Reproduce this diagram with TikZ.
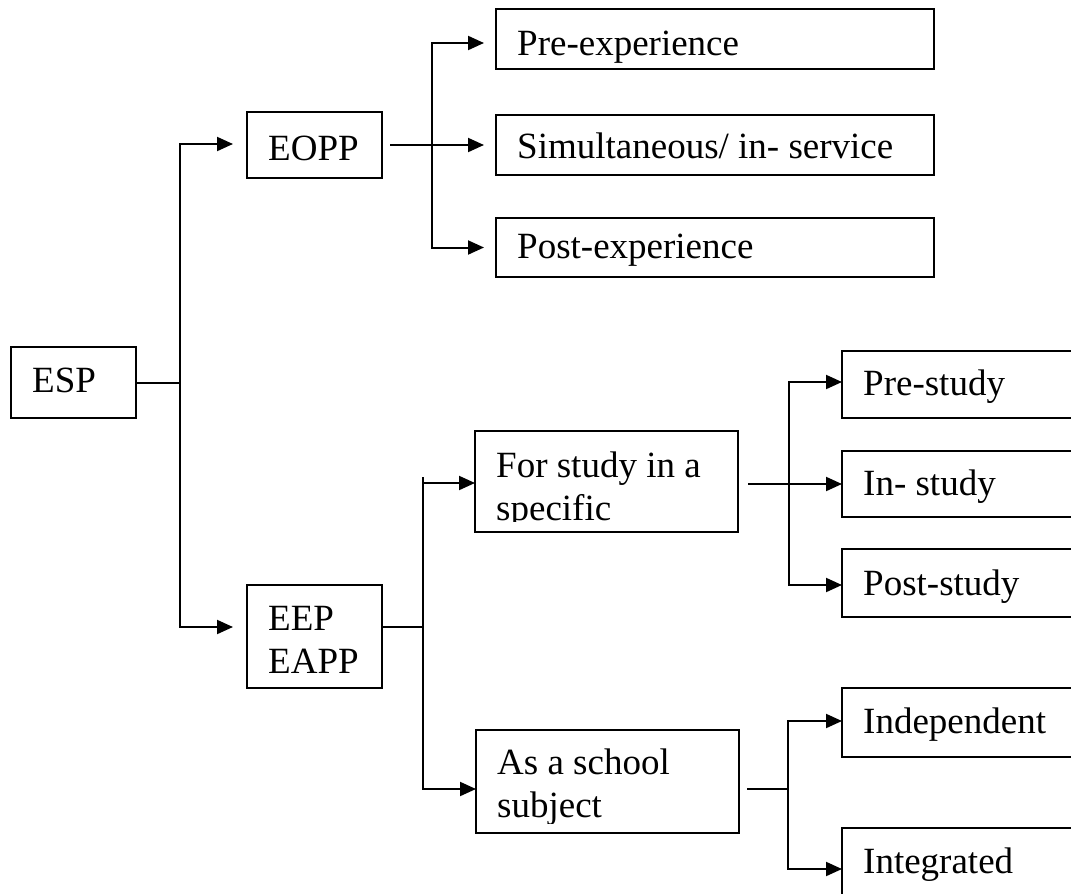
\documentclass[tikz,border=0pt]{standalone}
\usepackage{fontspec}
\setmainfont{Liberation Serif}
\usetikzlibrary{arrows.meta,calc}
\begin{document}
\begin{tikzpicture}[x=1pt,y=-1pt,
  box/.style={draw, line width=2pt, anchor=north west, inner sep=0pt, outer sep=0pt},
  lbl/.style={anchor=base west, inner sep=0pt, font=\fontsize{37}{43}\selectfont},
  conn/.style={line width=2pt},
  arr/.style={conn, -{Triangle[length=16pt,width=14pt]}}
]
\useasboundingbox (0,0) rectangle (1071,894);
\fill[white] (0,0) rectangle (1071,894);
\clip (0,0) rectangle (1071,894);

% boxes
\node[box, minimum width=125pt, minimum height=71pt] (esp) at (11,347) {};
\node[box, minimum width=135pt, minimum height=66pt] (eopp) at (247,112) {};
\node[box, minimum width=438pt, minimum height=60pt] (pre) at (496,9) {};
\node[box, minimum width=438pt, minimum height=60pt] (sim) at (496,115) {};
\node[box, minimum width=438pt, minimum height=59pt] (post) at (496,218) {};
\node[box, minimum width=135pt, minimum height=103pt] (eep) at (247,585) {};
\node[box, minimum width=263pt, minimum height=101pt] (forstudy) at (475,431) {};
\node[box, minimum width=263pt, minimum height=103pt] (school) at (476,730) {};
\node[box, minimum width=260pt, minimum height=67pt] (prestudy) at (842,351) {};
\node[box, minimum width=260pt, minimum height=66pt] (instudy) at (842,451) {};
\node[box, minimum width=260pt, minimum height=68pt] (poststudy) at (842,549) {};
\node[box, minimum width=260pt, minimum height=69pt] (indep) at (842,688) {};
\node[box, minimum width=260pt, minimum height=82pt] (integ) at (842,828) {};

% labels
\node[lbl] (t-esp) at ($(esp.north west)+(21,45)$) {ESP};
\node[lbl] (t-eopp) at ($(eopp.north west)+(21,48)$) {EOPP};
\node[lbl] (t-pre) at ($(pre.north west)+(21,46)$) {Pre-experience};
\node[lbl] (t-sim) at ($(sim.north west)+(21,43)$) {Simultaneous/ in- service};
\node[lbl] (t-post) at ($(post.north west)+(21,40)$) {Post-experience};
\node[lbl] (t-eep) at ($(eep.north west)+(21,45)$) {\parbox[t]{120pt}{EEP\\EAPP}};
\begin{scope}
\clip (forstudy.north west) rectangle ([yshift=11pt]forstudy.south east);
\node[lbl] (t-forstudy) at ($(forstudy.north west)+(21,46)$) {\parbox[t]{240pt}{For study in a\\specific}};
\end{scope}
\begin{scope}
\clip (school.north west) rectangle ([yshift=10pt]school.south east);
\node[lbl] (t-school) at ($(school.north west)+(21,44)$) {\parbox[t]{240pt}{As a school\\subject}};
\end{scope}
\node[lbl] (t-prestudy) at ($(prestudy.north west)+(21,44)$) {Pre-study};
\node[lbl] (t-instudy) at ($(instudy.north west)+(21,44)$) {In- study};
\node[lbl] (t-poststudy) at ($(poststudy.north west)+(21,46)$) {Post-study};
\node[lbl] (t-indep) at ($(indep.north west)+(21,45)$) {Independent};
\node[lbl] (t-integ) at ($(integ.north west)+(21,45)$) {Integrated};

% ESP fork
\coordinate (f1) at (180,382.5);
\draw[conn] (esp.east) -- (f1);
\draw[arr, shorten >=14pt] (f1) |- ([yshift=1pt]eopp.west);
\draw[arr, shorten >=14pt] (f1) |- ([yshift=9.5pt]eep.west);

% EOPP fork
\coordinate (f2) at (432,145);
\draw[arr, shorten >=12pt] ([xshift=8pt]eopp.east) -- (sim.west);
\draw[arr, shorten >=12pt] (f2) |- ([yshift=-4pt]pre.west);
\draw[arr, shorten >=12pt] (f2) |- (post.west);

% EEP fork
\coordinate (f3) at (423,627);
\draw[conn] ([yshift=9.5pt]eep.east) -- (f3);
\draw[arr] (f3) |- ([yshift=-1.5pt]forstudy.west);
\draw[arr] (f3) |- ([yshift=-7.5pt]school.west);
\draw[conn] ([yshift=-1.5pt]forstudy.west -| f3) -- ++(0,-6);

% For-study fork
\coordinate (f4) at (789,484);
\draw[arr] ([xshift=10pt,yshift=-2.5pt]forstudy.east) -- (instudy.west);
\draw[arr] (f4) |- ([yshift=2.5pt]prestudy.west);
\draw[arr] (f4) |- ([yshift=-2pt]poststudy.west);

% School fork
\coordinate (f5) at (788,789);
\draw[conn] ([xshift=8pt,yshift=-7.5pt]school.east) -- (f5);
\draw[arr] (f5) |- ([yshift=1.5pt]indep.west);
\draw[arr] (f5) |- (integ.west);
\end{tikzpicture}
\end{document}
